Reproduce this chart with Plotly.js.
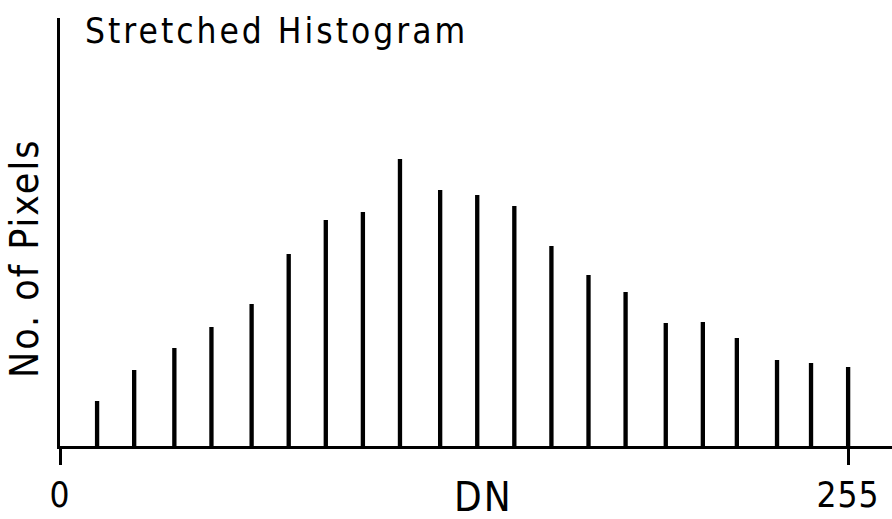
<!DOCTYPE html>
<html>
<head>
<meta charset="utf-8">
<script src="https://cdn.plot.ly/plotly-3.0.1.min.js"></script>
<style>
  html, body { margin: 0; padding: 0; background: #fff; }
  #chart { width: 892px; height: 519px; }
  .gtitle { letter-spacing: 3px; }
  .annotation-text { letter-spacing: 2px; }
  .xtick text { letter-spacing: 1px; }
</style>
</head>
<body>
<div id="chart"></div>
<script>
// DN positions of the histogram spikes
const dnValues = [12, 24, 37, 49, 62, 74, 86, 98, 110, 123, 135, 147, 159, 171, 183, 196, 208, 219, 232, 243, 255];
// Number of pixels (relative units)
const pixelCounts = [45, 76, 98, 119, 142, 192, 226, 234, 287, 256, 251, 240, 200, 171, 154, 123, 124, 108, 86, 83, 79];
// Axis tick labels
const tickValues = [0, 255];
const tickLabels = ["0", "255"];
const xTitle = 'DN';
const yTitle = 'No. of Pixels';

const FONT = '"Liberation Sans Narrow", "DejaVu Sans Condensed", "DejaVu Sans", sans-serif';

const trace = {
  type: 'bar',
  x: dnValues,
  y: pixelCounts,
  width: 1.4,
  marker: { color: '#000', line: { width: 0 } },
  hoverinfo: 'x+y'
};

const layout = {
  width: 892,
  height: 519,
  paper_bgcolor: '#fff',
  plot_bgcolor: '#fff',
  margin: { l: 60, r: 0, t: 18, b: 73, pad: 0 },
  showlegend: false,
  font: { family: FONT, color: '#000' },
  title: {
    text: 'Stretched Histogram',
    font: { family: FONT, size: 35, color: '#000' },
    xref: 'container', x: 85 / 892, xanchor: 'left',
    yref: 'container', y: 1 - 31 / 519, yanchor: 'middle'
  },
  xaxis: {
    range: [0, 269.2],
    tickmode: 'array',
    tickvals: tickValues,
    ticktext: tickLabels,
    ticks: 'outside',
    ticklen: 16,
    tickwidth: 3,
    tickcolor: '#000',
    tickfont: { family: FONT, size: 35, color: '#000' },
    showline: true,
    linecolor: '#000',
    linewidth: 3,
    showgrid: false,
    zeroline: false
  },
  yaxis: {
    range: [0, 428],
    showticklabels: false,
    ticks: '',
    showline: true,
    linecolor: '#000',
    linewidth: 3,
    showgrid: false,
    zeroline: false
  },
  annotations: [
    {
      text: xTitle,
      xref: 'paper', yref: 'paper',
      x: (483 - 60) / 832, y: -(497 - 446) / 428,
      xanchor: 'center', yanchor: 'middle',
      showarrow: false,
      font: { family: FONT, size: 40, color: '#000' }
    },
    {
      text: yTitle,
      xref: 'paper', yref: 'paper',
      x: -(60 - 24) / 832, y: (446 - 259) / 428,
      xanchor: 'center', yanchor: 'middle',
      textangle: -90,
      showarrow: false,
      font: { family: FONT, size: 39, color: '#000' }
    }
  ]
};

Plotly.newPlot('chart', [trace], layout, { displayModeBar: false, staticPlot: true });
</script>
</body>
</html>
